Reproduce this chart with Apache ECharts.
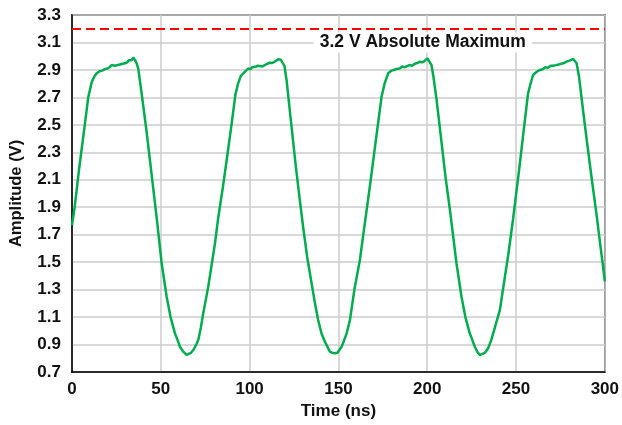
<!DOCTYPE html>
<html>
<head>
<meta charset="utf-8">
<title>Amplitude vs Time</title>
<script src="https://cdn.jsdelivr.net/npm/echarts@6/dist/echarts.min.js"></script>
<style>
    html, body { margin: 0; padding: 0; background: #fff; }
    #chart { width: 622px; height: 425px; }
</style>
</head>
<body>
<div id="chart"></div>
<script>
/* ===== 数据 ===== */
const timeNs = [
    0, 1.5, 4, 7, 9.2, 11.1, 12.5, 13.9, 15.5, 17, 18.6, 20, 21.2, 22.3, 23.2, 24.2, 25.5, 27, 28.5, 29.8,
    31, 32, 32.6, 33.5, 34.5, 35.3, 36.4, 37.3, 39.2, 42, 45, 47.7, 50.5, 53.3, 55.5, 58, 59.5, 60.8,
    62.5, 64.5, 65.5, 67, 68.3, 69.8, 71.1, 72.5, 73.9, 76.7, 78.5, 80.5, 82.3,
    85, 87.1, 90, 92, 93.5, 95, 97.4, 99.2, 100.5, 101.5, 102.5, 103.7, 104.9, 106, 107.2, 108.5, 110,
    111.4, 112.8, 114, 115, 116.1, 117.5, 118.6, 119.6, 120.8, 123.6, 126, 128.3, 130.2, 132.5, 134.9,
    136.8, 138.6, 140.5, 142.4, 143.8, 145.2, 146.5, 148, 149.5, 150.5, 151.8, 153.2, 154.6, 156.5, 159,
    162.1, 164, 165.9,
    168, 171, 174.3, 176, 178, 180, 182.7, 184.5, 186, 187.5, 189, 190.2, 191.5, 193, 194.5, 195.9, 197.2,
    198.5, 199.3, 200, 201, 202.4, 203.5, 205.3, 208, 210.5, 212.8, 216.5, 219.3, 221.5, 224, 225.5,
    226.8, 228.3, 229.6, 230.8, 232.5, 234.3, 236, 238, 240.9, 243, 245.6, 248.4,
    252, 254.5, 256.8, 258.2, 259.6, 261.5, 263.4, 265, 266.5, 268, 269.5, 270.9, 272.5, 274, 275.5, 277,
    278.4, 279.5, 280.5, 281.3, 282.2, 283.2, 284.1, 285.5, 287.8, 290, 292.5, 295.3, 297.5, 299, 300
];
const amplitudeV = [
    1.77, 1.9, 2.18, 2.48, 2.705, 2.81, 2.85, 2.875, 2.89, 2.895, 2.907, 2.91, 2.92, 2.936, 2.925, 2.93, 2.935, 2.94, 2.945, 2.948,
    2.955, 2.97, 2.978, 2.97, 2.99, 2.975, 2.948, 2.91, 2.73, 2.45, 2.12, 1.82, 1.49, 1.248, 1.1, 0.98, 0.93, 0.884,
    0.85, 0.824, 0.835, 0.84, 0.86, 0.895, 0.933, 1.02, 1.127, 1.32, 1.47, 1.637, 1.82,
    2.05, 2.244, 2.52, 2.72, 2.8, 2.855, 2.887, 2.91, 2.905, 2.92, 2.91, 2.925, 2.93, 2.92, 2.925, 2.935, 2.945,
    2.953, 2.95, 2.96, 2.97, 2.977, 2.975, 2.972, 2.93, 2.827, 2.487, 2.2, 1.95, 1.75, 1.53, 1.346,
    1.2, 1.079, 0.98, 0.92, 0.885, 0.848, 0.84, 0.836, 0.84, 0.86, 0.884, 0.93, 0.98, 1.079, 1.3,
    1.516, 1.7, 1.88,
    2.08, 2.38, 2.705, 2.8, 2.875, 2.895, 2.907, 2.91, 2.925, 2.92, 2.93, 2.936, 2.93, 2.945, 2.95, 2.96, 2.955,
    2.965, 2.975, 2.985, 2.975, 2.936, 2.85, 2.68, 2.38, 2.1, 1.88, 1.49, 1.248, 1.1, 0.98, 0.93,
    0.884, 0.845, 0.824, 0.83, 0.84, 0.873, 0.93, 1.02, 1.15, 1.33, 1.55, 1.82,
    2.2, 2.48, 2.73, 2.8, 2.863, 2.885, 2.9, 2.905, 2.92, 2.915, 2.93, 2.93, 2.935, 2.94, 2.945, 2.95,
    2.96, 2.955, 2.97, 2.975, 2.98, 2.975, 2.948, 2.85, 2.6, 2.37, 2.12, 1.85, 1.62, 1.47, 1.36
];
const absMaxV = 3.2;
const absMaxLabel = "3.2 V Absolute Maximum";
const absMaxLabelAt = [197.5, 3.1];

/* ===== 图表 ===== */
const FONT = "'Liberation Sans', Arial, sans-serif";
const chart = echarts.init(document.getElementById("chart"));

chart.setOption({
    animation: false,
    backgroundColor: "#fff",
    grid: {
        left: 72, right: 17, top: 15, bottom: 53,
        show: true, borderColor: "#000", borderWidth: 1.5,
    },
    xAxis: {
        type: "value",
        min: 0, max: 300, interval: 50,
        name: "Time (ns)",
        nameLocation: "middle",
        nameGap: 28,
        nameTextStyle: { fontFamily: FONT, fontWeight: "bold", fontSize: 17, color: "#111" },
        axisLine: { show: true, lineStyle: { color: "#000", width: 1.5 } },
        axisTick: { show: false },
        axisLabel: { margin: 9, fontFamily: FONT, fontWeight: "bold", fontSize: 17, color: "#111" },
        splitLine: { show: true, lineStyle: { color: "#cccccc", width: 1.5 } },
    },
    yAxis: {
        type: "value",
        min: 0.7, max: 3.3, interval: 0.2,
        name: "Amplitude (V)",
        nameLocation: "middle",
        nameGap: 47,
        nameTextStyle: { fontFamily: FONT, fontWeight: "bold", fontSize: 16.5, color: "#111" },
        axisLine: { show: true, lineStyle: { color: "#000", width: 1.5 } },
        axisTick: { show: false },
        axisLabel: {
            margin: 11, fontFamily: FONT, fontWeight: "bold", fontSize: 17, color: "#111",
            formatter: v => v.toFixed(1),
        },
        splitLine: { show: true, lineStyle: { color: "#cccccc", width: 1.5 } },
    },
    series: [{
        type: "line",
        data: timeNs.map((t, i) => [t, amplitudeV[i]]),
        showSymbol: false,
        smooth: false,
        lineStyle: { color: "#00ac4f", width: 2.5 },
        itemStyle: { color: "#00ac4f" },
        markLine: {
            silent: true,
            symbol: "none",
            label: { show: false },
            lineStyle: { color: "#ff0000", type: [9, 5], width: 2 },
            data: [{ yAxis: absMaxV }],
        },
        markPoint: {
            silent: true,
            symbol: "circle",
            symbolSize: 1,
            itemStyle: { color: "rgba(0,0,0,0)" },
            label: {
                show: true,
                position: "inside",
                formatter: absMaxLabel,
                backgroundColor: "#fff",
                padding: [1, 6],
                fontFamily: FONT, fontWeight: "bold", fontSize: 17.5, color: "#111",
            },
            data: [{ coord: absMaxLabelAt }],
        },
    }],
});
</script>
</body>
</html>
